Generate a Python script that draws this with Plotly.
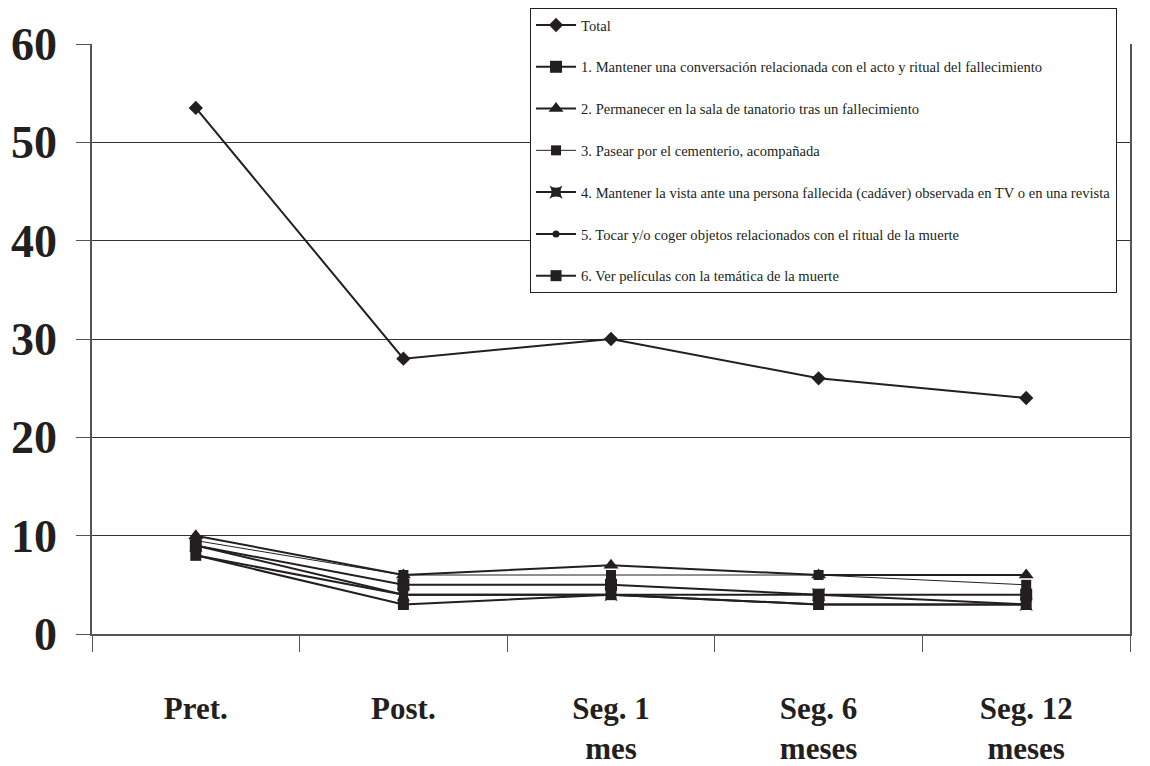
import plotly.graph_objects as go

categories = ["Pret.", "Post.", "Seg. 1<br>mes", "Seg. 6<br>meses", "Seg. 12<br>meses"]

total = [53.5, 28, 30, 26, 24]
item1 = [9, 5, 5, 4, 4]
item2 = [10, 6, 7, 6, 6]
item3 = [9.5, 6, 6, 6, 5]
item4 = [9, 4, 4, 4, 3]
item5 = [8, 4, 4, 3, 3]
item6 = [8, 3, 4, 3, 3]

names = [
    "Total",
    "1. Mantener una conversación relacionada con el acto y ritual del fallecimiento",
    "2. Permanecer en la sala de tanatorio tras un fallecimiento",
    "3. Pasear por el cementerio, acompañada",
    "4. Mantener la vista ante una persona fallecida (cadáver) observada en TV o en una revista",
    "5. Tocar y/o coger objetos relacionados con el ritual de la muerte",
    "6. Ver películas con la temática de la muerte",
]
series = [total, item1, item2, item3, item4, item5, item6]
symbols = ["diamond", "square", "triangle-up", "square", "star-square", "circle", "square"]
msizes = [11, 12, 13, 10, 12, 7, 11]
lwidths = [2, 2, 2, 1, 2, 2, 2]

ink = "#231f20"
serif = "Liberation Serif, Times New Roman, serif"

fig = go.Figure()
for i, (nm, vals) in enumerate(zip(names, series)):
    fig.add_trace(go.Scatter(
        x=categories, y=vals, name=nm, mode="lines+markers",
        legendgroup=f"g{i}",
        line=dict(color=ink, width=lwidths[i]),
        marker=dict(symbol=symbols[i], size=msizes[i], color=ink, line=dict(width=0)),
    ))

fig.update_layout(
    width=1142, height=758,
    paper_bgcolor="white", plot_bgcolor="white",
    margin=dict(l=84, r=20, t=36, b=132, autoexpand=False),
    font=dict(family=serif, color=ink),
    showlegend=True,
    legend=dict(
        x=0.422, y=1.061, xanchor="left", yanchor="top",
        bgcolor="white", bordercolor=ink, borderwidth=1,
        font=dict(family=serif, size=14.6, color=ink),
        tracegroupgap=19.8, itemwidth=40, entrywidth=588,
    ),
    xaxis=dict(
        type="category", range=[-0.5, 4.5], tickson="boundaries",
        ticks="outside", ticklen=16, tickcolor="#555", tickwidth=1,
        showline=True, linecolor="#555", linewidth=1.5,
        showgrid=False, zeroline=False,
        tickfont=dict(family=serif, size=31, color=ink, weight="bold"),
        ticklabelstandoff=46,
    ),
    yaxis=dict(
        range=[0, 60], dtick=10, tick0=0,
        ticks="outside", ticklen=14, tickcolor="#555", tickwidth=1,
        showline=True, linecolor="#555", linewidth=1.5, mirror=True,
        showgrid=True, gridcolor="#333", gridwidth=1, zeroline=False,
        tickfont=dict(family=serif, size=46, color=ink, weight="bold"),
        ticklabelstandoff=10,
    ),
)

fig.write_html("out.html")
